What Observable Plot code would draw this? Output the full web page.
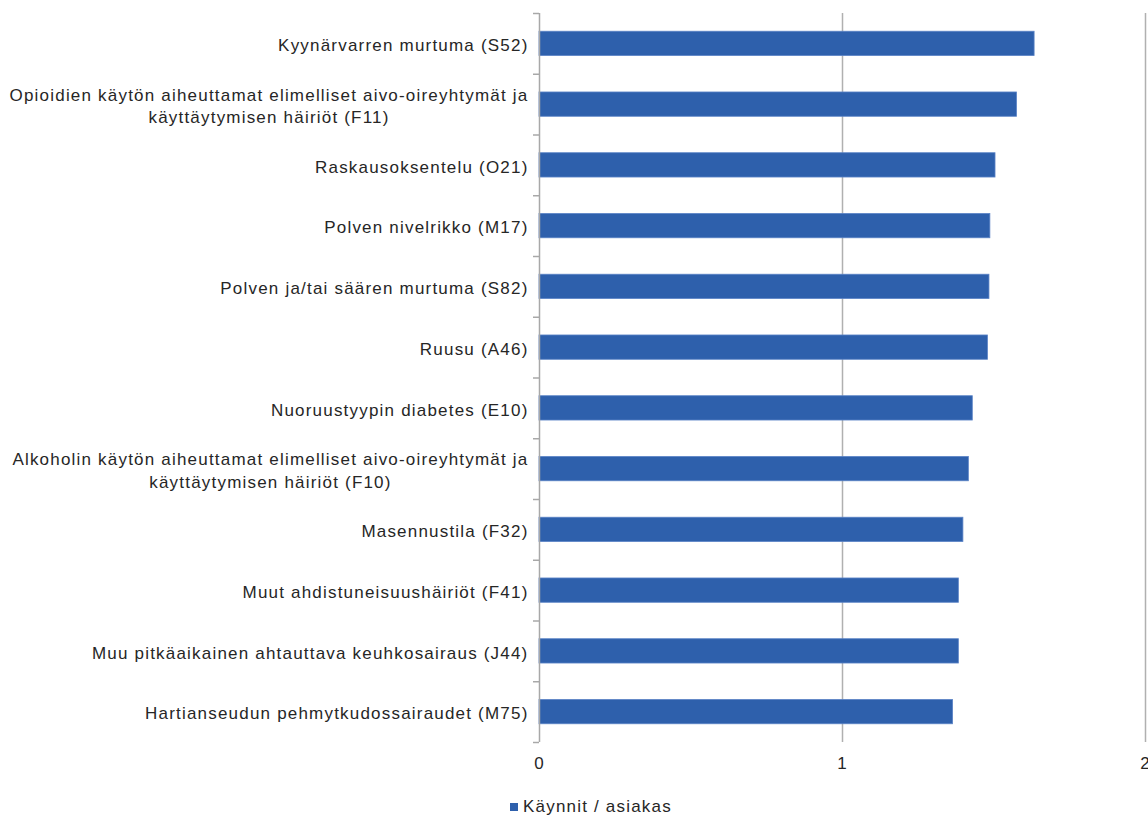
<!DOCTYPE html>
<html><head><meta charset="utf-8">
<script src="https://cdn.jsdelivr.net/npm/d3@7"></script>
<script src="https://cdn.jsdelivr.net/npm/@observablehq/plot@0.6"></script>
<style>
body{margin:0;background:#fff;font-family:"Liberation Sans",Arial,sans-serif;color:#262626;}
#wrap{position:relative;width:1148px;height:817px;overflow:hidden;}
#legend{position:absolute;left:510px;top:797px;font-size:17px;letter-spacing:1.2px;line-height:20px;display:flex;align-items:center;white-space:nowrap;}
#legend .sw{width:8px;height:8px;margin-right:5px;display:inline-block;}
</style></head><body>
<div id="wrap"><div id="chart"></div><div id="legend"></div></div>
<script>
const categories = [
  "Kyynärvarren murtuma (S52)",
  "Opioidien käytön aiheuttamat elimelliset aivo-oireyhtymät ja käyttäytymisen häiriöt (F11)",
  "Raskausoksentelu (O21)",
  "Polven nivelrikko (M17)",
  "Polven ja/tai säären murtuma (S82)",
  "Ruusu (A46)",
  "Nuoruustyypin diabetes (E10)",
  "Alkoholin käytön aiheuttamat elimelliset aivo-oireyhtymät ja käyttäytymisen häiriöt (F10)",
  "Masennustila (F32)",
  "Muut ahdistuneisuushäiriöt (F41)",
  "Muu pitkäaikainen ahtauttava keuhkosairaus (J44)",
  "Hartianseudun pehmytkudossairaudet (M75)"
];
const values = [1.634, 1.576, 1.505, 1.488, 1.485, 1.480, 1.430, 1.417, 1.399, 1.384, 1.384, 1.365];
const seriesName = "Käynnit / asiakas";
const xTicks = [0, 1, 2];
const barColor = "#2E60AC";

const data = categories.map((c, i) => ({category: c, value: values[i]}));

const W = 1148, H = 785, mT = 13, mB = 43, mL = 539, mR = 3;
const step = (H - mT - mB) / categories.length;
const pxPerUnit = (W - mL - mR) / (xTicks[xTicks.length - 1] - xTicks[0]);
const tickLen = 6 / pxPerUnit;

const fmt = d => d.replace(" käyttäytymisen", "\nkäyttäytymisen");

const chart = Plot.plot({
  width: W, height: H,
  marginTop: mT, marginBottom: mB, marginLeft: mL, marginRight: mR,
  style: {fontFamily: "Liberation Sans, Arial, sans-serif", fontSize: "17px", letterSpacing: "1.2px", color: "#262626", overflow: "visible", background: "transparent"},
  x: {domain: [xTicks[0], xTicks[xTicks.length - 1]], label: null},
  y: {domain: categories, paddingInner: 0.6, paddingOuter: 0.3, round: false, label: null},
  marks: [
    Plot.ruleX(xTicks.filter(t => t > 0), {stroke: "#b0b0b0", strokeWidth: 1.5}),
    Plot.barX(data, {x: "value", y: "category", fill: barColor, stroke: "#5b83c6", strokeWidth: 0.8}),
    Plot.ruleX([0], {stroke: "#a8a8a8", strokeWidth: 1.5}),
    Plot.ruleY(categories, {y: d => d, x1: 0, x2: -tickLen, dy: -step / 2, stroke: "#a8a8a8", strokeWidth: 1.5}),
    Plot.ruleY(categories.slice(-1), {y: d => d, x1: 0, x2: -tickLen, dy: step / 2, stroke: "#a8a8a8", strokeWidth: 1.5}),
    Plot.axisX({ticks: xTicks, tickSize: 0, tickPadding: 14, tickFormat: d => String(d), fontSize: 17, fill: "#262626", label: null}),
    Plot.axisY({tickSize: 0, tickPadding: 11, tickFormat: fmt, fontSize: 17, lineHeight: 1.35, fill: "#262626", label: null})
  ]
});
document.getElementById("chart").appendChild(chart);

// center multi-line tick labels relative to their longest line
chart.querySelectorAll("text").forEach(t => {
  const spans = t.querySelectorAll("tspan");
  if (spans.length > 1) {
    let maxW = 0;
    spans.forEach(s => { maxW = Math.max(maxW, s.getComputedTextLength()); });
    t.setAttribute("text-anchor", "middle");
    spans.forEach(s => s.setAttribute("x", -maxW / 2));
  }
});

const lg = document.getElementById("legend");
const sw = document.createElement("span");
sw.className = "sw"; sw.style.background = barColor;
lg.appendChild(sw);
lg.appendChild(document.createTextNode(seriesName));
</script>
</body></html>
